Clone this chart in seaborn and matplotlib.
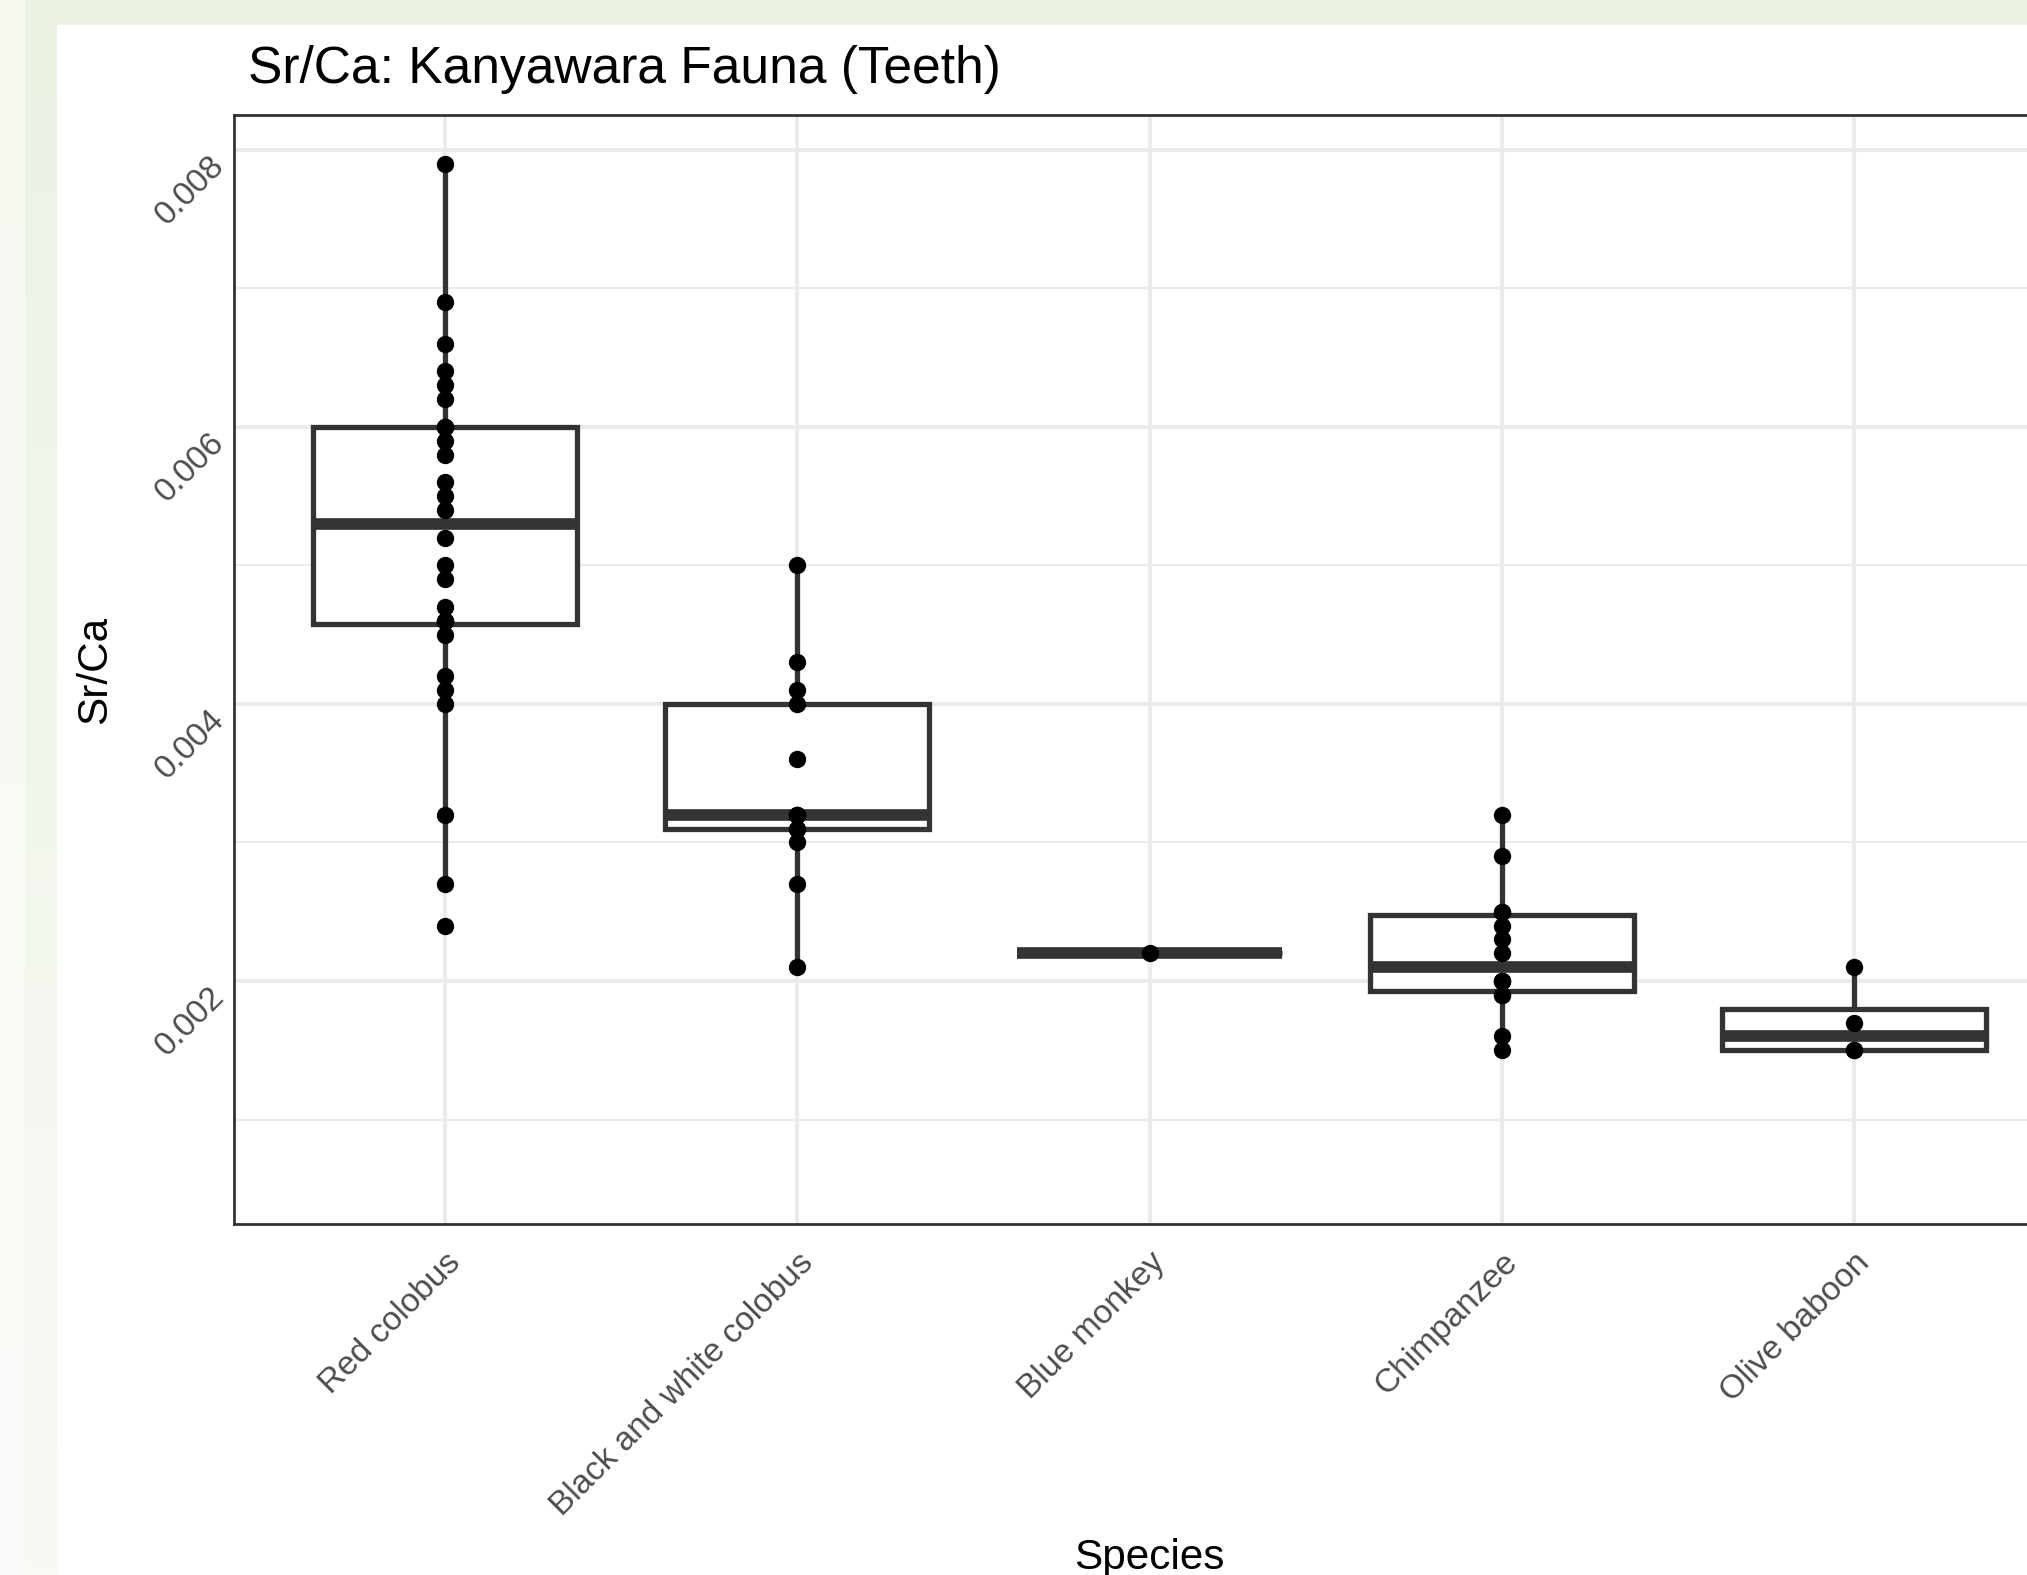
import numpy as np
import pandas as pd
import matplotlib
matplotlib.use('Agg')
import matplotlib.pyplot as plt
import seaborn as sns

# values (duplicates added where the box needs them)
species = ['Red colobus', 'Black and white colobus', 'Blue monkey', 'Chimpanzee', 'Olive baboon']
red_colobus = [0.0024, 0.0027, 0.0032, 0.0040, 0.0041, 0.0042, 0.0045, 0.0046, 0.0046,
               0.0046, 0.0047, 0.0049, 0.0050, 0.0052, 0.0054, 0.0055, 0.0056, 0.0058,
               0.0059, 0.0060, 0.0060, 0.0060, 0.0062, 0.0063, 0.0064, 0.0066, 0.0069, 0.0079]
bw_colobus = [0.0021, 0.0027, 0.0030, 0.0031, 0.0031, 0.0032, 0.0032, 0.0032, 0.0036,
              0.0040, 0.0041, 0.0043, 0.0050]
blue_monkey = [0.0022]
chimpanzee = [0.0015, 0.0016, 0.0019, 0.0019, 0.0020, 0.0020, 0.0020, 0.0022, 0.0023,
              0.0024, 0.0025, 0.0025, 0.0029, 0.0032]
olive_baboon = [0.0015, 0.0015, 0.0017, 0.0021]
y_major = [0.002, 0.004, 0.006, 0.008]
y_minor = [0.001, 0.003, 0.005, 0.007]

groups = [red_colobus, bw_colobus, blue_monkey, chimpanzee, olive_baboon]
df = pd.DataFrame({
    'Species': [s for s, g in zip(species, groups) for _ in g],
    'SrCa': [v for g in groups for v in g],
})

sns.set_style('white')
plt.rcParams['font.family'] = ['Liberation Sans', 'DejaVu Sans']

W, H = 2027, 1575
fig = plt.figure(figsize=(W / 100, H / 100), dpi=100)
fig.patch.set_facecolor('white')

# page background behind the plot (greenish frame from the screenshot)
bg = fig.add_axes([0, 0, 1, 1], zorder=-10)
bg.axis('off')
t = np.linspace(0, 1, 200)[:, None]
strip = np.array([246, 250, 241]) * (1 - t) + np.array([250, 251, 248]) * t
band = np.array([235, 243, 229]) * (1 - t) + np.array([248, 250, 245]) * t
bg.imshow(strip[:, None, :].astype(np.uint8), extent=(0, 25, H, 0), aspect='auto')
bg.imshow(band[:, None, :].astype(np.uint8), extent=(25, 57, H, 0), aspect='auto')
bg.imshow(np.array([[[235, 243, 229]]], dtype=np.uint8), extent=(57, W, 25, 0), aspect='auto')
bg.set_xlim(0, W)
bg.set_ylim(H, 0)

ax = fig.add_axes([234 / W, 1 - 1224 / H, (2065 - 234) / W, (1224 - 115) / H])
ax.set_facecolor('white')

line_c = '#333333'
sns.boxplot(data=df, x='Species', y='SrCa', order=species, color='white',
            linecolor=line_c, linewidth=3.8, width=0.75, showcaps=False,
            showfliers=False, whis=1.5, medianprops={'linewidth': 8.4}, ax=ax)
sns.stripplot(data=df, x='Species', y='SrCa', order=species, jitter=False,
              color='black', size=12.5, linewidth=0, ax=ax, zorder=4)

ax.set_xlim(-0.6, 4.6)
ax.set_ylim(0.000246, 0.008251)
ax.set_yticks(y_major)
ax.set_yticks(y_minor, minor=True)
ax.set_yticklabels(['0.002', '0.004', '0.006', '0.008'])
ax.grid(which='major', color='#EBEBEB', linewidth=2.9)
ax.grid(which='minor', axis='y', color='#EBEBEB', linewidth=1.5)
ax.set_axisbelow(True)
for sp in ax.spines.values():
    sp.set_color(line_c)
    sp.set_linewidth(2.0)
ax.tick_params(which='major', length=7.2, width=2.0, color=line_c,
               labelcolor='#4D4D4D', labelsize=24)
ax.tick_params(axis='y', which='major', pad=11)
ax.tick_params(axis='x', which='major', pad=9.4)
ax.tick_params(which='minor', length=0)
ax.set_xlabel('')
ax.set_ylabel('')

for lab in ax.get_yticklabels() + ax.get_xticklabels():
    lab.set_rotation(45)
    lab.set_ha('right')
    lab.set_va('top')
    lab.set_rotation_mode('anchor')

fig.text(248 / W, 1 - 83 / H, 'Sr/Ca: Kanyawara Fauna (Teeth)', fontsize=37.1,
         ha='left', va='baseline', color='black')
fig.text(95 / W, 1 - 670 / H, 'Sr/Ca', fontsize=30.4, rotation=90,
         ha='center', va='center', color='black')
fig.text(1149 / W, 1 - 1569 / H, 'Species', fontsize=30.4,
         ha='center', va='baseline', color='black')

fig.savefig('out.png', dpi=100)
